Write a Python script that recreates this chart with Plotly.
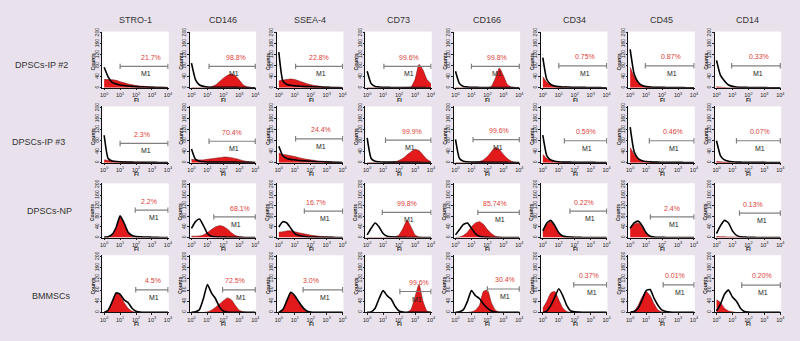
import plotly.graph_objects as go

# ---------------- data ----------------
markers = ["STRO-1", "CD146", "SSEA-4", "CD73", "CD166", "CD34", "CD45", "CD14"]
samples = ["DPSCs-IP #2", "DPSCs-IP #3", "DPSCs-NP", "BMMSCs"]

# fluorescence channel positions (log10 of Fl)
log_fl = [0.0, 0.25, 0.5, 0.75, 1.0, 1.25, 1.5, 1.75, 2.0, 2.25, 2.5, 2.75, 3.0, 3.25, 3.5, 3.75, 4.0]

# stained (red) histograms, one list per marker
red_ip2 = [
    [30, 30, 29, 27, 22, 18, 14, 11, 8, 6, 5, 4, 3, 2, 2, 1, 1],
    [0, 0, 0, 0, 1, 4, 10, 22, 35, 45, 50, 44, 28, 10, 3, 1, 0],
    [25, 28, 30, 32, 30, 25, 20, 15, 11, 8, 6, 4, 3, 2, 1, 1, 0],
    [0, 0, 0, 0, 0, 0, 0, 0, 0, 0, 1, 3, 30, 85, 65, 30, 15],
    [0, 0, 0, 0, 0, 0, 0, 0, 0, 5, 35, 72, 45, 12, 2, 0, 0],
    [40, 20, 10, 5, 3, 2, 1, 1, 0, 0, 0, 0, 0, 0, 0, 0, 0],
    [75, 40, 18, 8, 4, 2, 1, 1, 0, 0, 0, 0, 0, 0, 0, 0, 0],
    [4, 2, 1, 0, 0, 0, 0, 0, 0, 0, 0, 0, 0, 0, 0, 0, 0],
]
red_ip3 = [
    [10, 8, 6, 5, 4, 3, 2, 2, 1, 1, 1, 0, 0, 0, 0, 0, 0],
    [12, 10, 10, 10, 12, 14, 16, 18, 20, 20, 18, 15, 11, 7, 4, 2, 0],
    [35, 30, 28, 25, 22, 18, 15, 12, 10, 8, 6, 5, 4, 3, 2, 1, 0],
    [0, 0, 0, 0, 0, 0, 1, 3, 8, 16, 28, 40, 48, 44, 28, 12, 3],
    [0, 0, 0, 0, 0, 1, 4, 10, 22, 40, 55, 48, 30, 15, 5, 1, 0],
    [30, 15, 8, 4, 2, 1, 1, 0, 0, 0, 0, 0, 0, 0, 0, 0, 0],
    [55, 30, 12, 6, 3, 2, 1, 0, 0, 0, 0, 0, 0, 0, 0, 0, 0],
    [5, 3, 2, 1, 0, 0, 0, 0, 0, 0, 0, 0, 0, 0, 0, 0, 0],
]
red_np = [
    [0, 2, 10, 35, 78, 50, 15, 4, 1, 0, 0, 0, 0, 0, 0, 0, 0],
    [5, 5, 6, 10, 18, 30, 40, 45, 42, 32, 18, 8, 3, 1, 0, 0, 0],
    [20, 22, 25, 25, 22, 18, 15, 12, 9, 7, 5, 4, 3, 2, 1, 0, 0],
    [0, 0, 0, 0, 0, 0, 0, 2, 10, 35, 65, 40, 10, 2, 0, 0, 0],
    [0, 2, 8, 20, 40, 55, 60, 50, 30, 15, 5, 2, 0, 0, 0, 0, 0],
    [20, 50, 60, 40, 15, 5, 2, 1, 0, 0, 0, 0, 0, 0, 0, 0, 0],
    [35, 50, 55, 40, 15, 3, 1, 0, 0, 0, 0, 0, 0, 0, 0, 0, 0],
    [4, 3, 3, 2, 2, 1, 1, 0, 0, 0, 0, 0, 0, 0, 0, 0, 0],
]
red_bm = [
    [0, 8, 35, 68, 62, 35, 15, 4, 0, 0, 0, 0, 0, 0, 0, 0, 0],
    [0, 0, 0, 0, 2, 8, 18, 30, 42, 52, 45, 25, 8, 2, 0, 0, 0],
    [0, 10, 40, 70, 58, 35, 15, 4, 0, 0, 0, 0, 0, 0, 0, 0, 0],
    [0, 0, 0, 0, 0, 0, 0, 0, 0, 0, 0, 10, 55, 100, 40, 5, 0],
    [0, 0, 0, 0, 2, 8, 25, 75, 80, 35, 8, 1, 0, 0, 0, 0, 0],
    [15, 40, 70, 75, 45, 15, 3, 0, 0, 0, 0, 0, 0, 0, 0, 0, 0],
    [0, 5, 25, 55, 75, 60, 30, 8, 2, 0, 0, 0, 0, 0, 0, 0, 0],
    [45, 35, 15, 5, 2, 0, 0, 0, 0, 0, 0, 0, 0, 0, 0, 0, 0],
]

# isotype control (black outline) histograms
ctrl_ip2 = [
    [75, 40, 20, 14, 10, 8, 6, 5, 4, 3, 3, 2, 2, 1, 1, 1, 0],
    [90, 30, 10, 5, 3, 2, 2, 2, 2, 2, 2, 2, 1, 1, 1, 0, 0],
    [130, 25, 12, 9, 7, 6, 5, 4, 4, 3, 3, 2, 2, 1, 1, 1, 0],
    [60, 15, 5, 3, 2, 2, 1, 1, 1, 1, 1, 1, 1, 1, 1, 0, 0],
    [60, 15, 5, 3, 2, 2, 1, 1, 1, 1, 1, 1, 1, 1, 1, 0, 0],
    [110, 30, 12, 6, 4, 3, 3, 2, 2, 2, 2, 1, 1, 1, 1, 0, 0],
    [140, 50, 20, 8, 4, 3, 2, 2, 2, 1, 1, 1, 1, 1, 0, 0, 0],
    [100, 45, 25, 10, 5, 3, 2, 2, 1, 1, 1, 1, 1, 0, 0, 0, 0],
]
ctrl_ip3 = [
    [100, 15, 6, 4, 3, 2, 2, 2, 1, 1, 1, 1, 1, 1, 0, 0, 0],
    [50, 12, 5, 3, 2, 2, 2, 2, 2, 2, 2, 2, 1, 1, 1, 1, 0],
    [60, 25, 15, 12, 10, 8, 7, 6, 5, 4, 3, 3, 2, 2, 1, 1, 0],
    [90, 15, 5, 3, 2, 2, 2, 2, 1, 1, 1, 1, 1, 1, 0, 0, 0],
    [85, 15, 5, 3, 2, 2, 2, 2, 1, 1, 1, 1, 1, 1, 0, 0, 0],
    [100, 25, 10, 5, 3, 2, 2, 2, 1, 1, 1, 1, 1, 1, 0, 0, 0],
    [130, 40, 15, 7, 4, 3, 2, 2, 1, 1, 1, 1, 1, 1, 0, 0, 0],
    [80, 25, 10, 5, 3, 2, 2, 1, 1, 1, 1, 1, 1, 0, 0, 0, 0],
]
ctrl_np = [
    [2, 3, 12, 38, 82, 55, 20, 8, 4, 3, 2, 2, 1, 1, 0, 0, 0],
    [35, 60, 70, 45, 15, 5, 3, 2, 2, 1, 1, 1, 1, 0, 0, 0, 0],
    [40, 60, 55, 35, 15, 8, 5, 3, 2, 2, 1, 1, 1, 1, 0, 0, 0],
    [10, 35, 55, 40, 15, 5, 3, 2, 1, 1, 0, 0, 0, 0, 0, 0, 0],
    [10, 30, 50, 55, 35, 15, 5, 2, 1, 0, 0, 0, 0, 0, 0, 0, 0],
    [25, 55, 65, 45, 18, 6, 3, 2, 1, 1, 0, 0, 0, 0, 0, 0, 0],
    [35, 55, 62, 45, 18, 5, 2, 1, 1, 0, 0, 0, 0, 0, 0, 0, 0],
    [15, 45, 65, 55, 25, 8, 3, 2, 1, 1, 0, 0, 0, 0, 0, 0, 0],
]
ctrl_bm = [
    [0, 8, 38, 70, 65, 45, 35, 15, 4, 1, 0, 0, 0, 0, 0, 0, 0],
    [0, 2, 10, 50, 100, 70, 50, 20, 5, 1, 0, 0, 0, 0, 0, 0, 0],
    [0, 10, 42, 72, 60, 38, 18, 5, 1, 0, 0, 0, 0, 0, 0, 0, 0],
    [0, 2, 15, 50, 78, 60, 48, 22, 5, 1, 0, 0, 0, 0, 0, 0, 0],
    [0, 2, 10, 40, 78, 60, 50, 30, 15, 5, 1, 0, 0, 0, 0, 0, 0],
    [0, 5, 25, 55, 85, 60, 25, 5, 2, 1, 0, 0, 0, 0, 0, 0, 0],
    [0, 3, 15, 45, 78, 82, 50, 25, 8, 3, 1, 0, 0, 0, 0, 0, 0],
    [5, 30, 65, 80, 55, 40, 15, 3, 1, 0, 0, 0, 0, 0, 0, 0, 0],
]

pct_ip2 = ["21.7%", "98.8%", "22.8%", "99.6%", "99.8%", "0.75%", "0.87%", "0.33%"]
pct_ip3 = ["2.3%", "70.4%", "24.4%", "99.9%", "99.6%", "0.59%", "0.46%", "0.07%"]
pct_np = ["2.2%", "68.1%", "16.7%", "99.8%", "85.74%", "0.22%", "2.4%", "0.13%"]
pct_bm = ["4.5%", "72.5%", "3.0%", "99.6%", "30.4%", "0.37%", "0.01%", "0.20%"]

# M1 gate start (log10 Fl); gates end at 10^4
gate_ip2 = [1.0, 1.1, 1.05, 1.05, 1.0, 1.0, 0.95, 0.95]
gate_ip3 = [1.0, 1.1, 1.05, 1.15, 1.1, 1.35, 1.2, 1.25]
gate_np = [1.95, 1.4, 1.6, 0.95, 1.4, 1.7, 1.27, 1.44]
gate_bm = [1.98, 1.95, 1.52, 2.05, 2.0, 1.94, 2.07, 1.58]

stained = [red_ip2, red_ip3, red_np, red_bm]
controls = [ctrl_ip2, ctrl_ip3, ctrl_np, ctrl_bm]
percents = [pct_ip2, pct_ip3, pct_np, pct_bm]
gates = [gate_ip2, gate_ip3, gate_np, gate_bm]

# ---------------- layout / style ----------------
W, H = 800, 341
BG = "#E9E2EC"
RED = "#E31A1C"
FONT = "Liberation Sans, Arial, sans-serif"
col_left = [101, 189, 277, 366, 455, 543, 631, 718]
PW = 67
row_top = [28, 104, 182, 255]
row_bot = [85, 161, 237, 313]
row_label_x = [40, 37, 48, 50]
row_label_y = [62, 140, 210, 296]
gate_level = [
    [78, 78, 78, 78, 78, 80, 80, 80],
    [70, 78, 87, 82, 84, 80, 80, 80],
    [104, 78, 100, 95, 95, 100, 78, 92],
    [81, 81, 81, 75, 84, 99, 99, 98],
]
pct_x = [
    [2.95, 2.78, 2.5, 2.6, 2.6, 2.65, 2.55, 2.65],
    [2.36, 2.57, 2.64, 2.83, 2.7, 2.7, 2.7, 2.7],
    [2.84, 3.04, 2.3, 2.5, 2.5, 2.6, 2.6, 2.26],
    [3.08, 2.7, 2.0, 3.28, 3.08, 2.9, 2.82, 2.84],
]


def px_x(p):
    return p / W


def px_y(p):
    return 1 - p / H


fig = go.Figure()
annotations = []
shapes = []
layout_axes = {}

for r in range(4):
    for c in range(8):
        k = r * 8 + c + 1
        xa = "x" if k == 1 else f"x{k}"
        ya = "y" if k == 1 else f"y{k}"
        xkey = "xaxis" if k == 1 else f"xaxis{k}"
        ykey = "yaxis" if k == 1 else f"yaxis{k}"
        L = col_left[c]
        layout_axes[xkey] = dict(
            domain=[px_x(L), px_x(L + PW)], range=[-0.12, 4.05], anchor=ya,
            tickvals=[0, 1, 2, 3, 4],
            ticktext=["10<sup>0</sup>", "10<sup>1</sup>", "10<sup>2</sup>", "10<sup>3</sup>", "10<sup>4</sup>"],
            tickfont=dict(size=5.5, color="#222", family=FONT),
            ticks="outside", ticklen=1.5, tickwidth=0.8, tickcolor="#222",
            showline=True, linecolor="#111", linewidth=1,
            showgrid=False, zeroline=False, fixedrange=True,
        )
        layout_axes[ykey] = dict(
            domain=[px_y(row_bot[r]), px_y(row_top[r])], range=[0, 205], anchor=xa,
            tickvals=[0, 40, 80, 120, 160, 200], tickangle=-90,
            tickfont=dict(size=5, color="#222", family=FONT),
            ticks="outside", ticklen=1.5, tickwidth=0.8, tickcolor="#222",
            ticklabelstandoff=-1,
            showline=True, linecolor="#111", linewidth=1,
            showgrid=False, zeroline=False, fixedrange=True,
        )
        fig.add_trace(go.Scatter(
            x=log_fl, y=stained[r][c], mode="lines", fill="tozeroy",
            fillcolor=RED, line=dict(color="#7a1212", width=0.6, shape="spline", smoothing=0.5),
            xaxis=xa, yaxis=ya, showlegend=False, hoverinfo="skip",
        ))
        fig.add_trace(go.Scatter(
            x=log_fl, y=controls[r][c], mode="lines",
            line=dict(color="#000000", width=1.6, shape="spline", smoothing=0.5),
            xaxis=xa, yaxis=ya, showlegend=False, hoverinfo="skip",
        ))
        g0 = gates[r][c]
        gy = gate_level[r][c]
        gl = dict(color="#808080", width=1.2)
        shapes.append(dict(type="line", xref=xa, yref=ya, x0=g0, x1=4.0, y0=gy, y1=gy, line=gl))
        shapes.append(dict(type="line", xref=xa, yref=ya, x0=g0, x1=g0, y0=gy - 10, y1=gy + 10, line=gl))
        shapes.append(dict(type="line", xref=xa, yref=ya, x0=4.0, x1=4.0, y0=gy - 10, y1=gy + 10, line=gl))
        annotations.append(dict(
            xref=xa, yref=ya, x=pct_x[r][c], y=gy + 33, text=percents[r][c], showarrow=False,
            font=dict(size=7, color="#E0413A", family=FONT), xanchor="center", yanchor="middle",
        ))
        annotations.append(dict(
            xref=xa, yref=ya, x=(g0 + 4.0) / 2 + 0.12, y=gy - 27, text="M1", showarrow=False,
            font=dict(size=7, color="#222", family=FONT), xanchor="center", yanchor="middle",
        ))
        annotations.append(dict(
            xref="paper", yref="paper", x=px_x(L - 9.5), y=px_y((row_top[r] + row_bot[r]) / 2 + 2),
            text="<b>Counts</b>", textangle=-90, showarrow=False,
            font=dict(size=5, color="#222", family=FONT), xanchor="center", yanchor="middle",
        ))
        annotations.append(dict(
            xref="paper", yref="paper", x=px_x(L + PW / 2 + 1), y=px_y(row_bot[r] + 12),
            text="<b>Fl</b>", showarrow=False,
            font=dict(size=5.5, color="#222", family=FONT), xanchor="center", yanchor="middle",
        ))

for c, name in enumerate(markers):
    annotations.append(dict(
        xref="paper", yref="paper", x=px_x(col_left[c] + PW / 2), y=px_y(16),
        text=name, showarrow=False, font=dict(size=9, color="#333", family=FONT),
        xanchor="center", yanchor="middle",
    ))
for r, name in enumerate(samples):
    annotations.append(dict(
        xref="paper", yref="paper", x=px_x(row_label_x[r]), y=px_y(row_label_y[r]),
        text=name, showarrow=False, font=dict(size=9, color="#333", family=FONT),
        xanchor="center", yanchor="middle",
    ))

fig.update_layout(
    width=W, height=H, margin=dict(l=0, r=0, t=0, b=0),
    paper_bgcolor=BG, plot_bgcolor="white",
    annotations=annotations, shapes=shapes, showlegend=False,
    **layout_axes,
)
fig.write_html(
    "out.html",
    config={"displayModeBar": False},
    post_script="document.body.style.margin='0';document.body.style.background='" + BG + "';",
)
